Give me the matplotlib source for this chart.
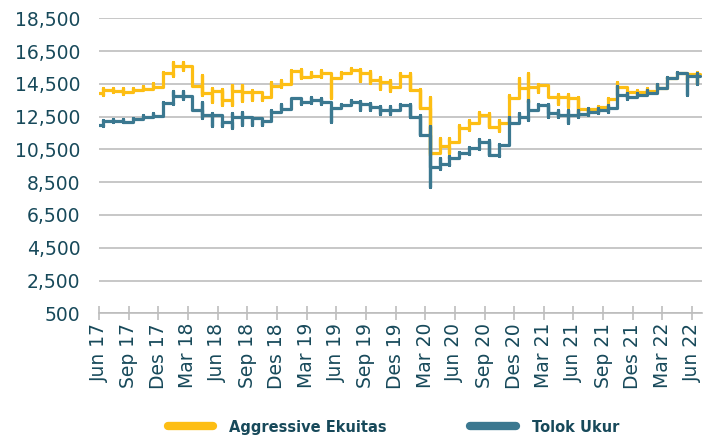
import matplotlib
matplotlib.use("Agg")
import matplotlib.pyplot as plt
from matplotlib.lines import Line2D

# ---------------- data (index values, monthly) ----------------
tick_labels = ["Jun 17", "Sep 17", "Des 17", "Mar 18", "Jun 18", "Sep 18", "Des 18",
               "Mar 19", "Jun 19", "Sep 19", "Des 19", "Mar 20", "Jun 20", "Sep 20",
               "Des 20", "Mar 21", "Jun 21", "Sep 21", "Des 21", "Mar 22", "Jun 22"]

series_names = ["Aggressive Ekuitas", "Tolok Ukur"]

ae_start = 13920
ae_close = [14150, 14080, 14030, 14130, 14200, 14300, 15150, 15600, 15600, 14400,
            13930, 14080, 13520, 14090, 14020, 14020, 13720, 14390, 14470, 15300,
            14940, 14980, 15140, 14840, 15140, 15350, 15180, 14730, 14630, 14320,
            14970, 14120, 13020, 10300, 10700, 10980, 11790, 12100, 12600, 11890,
            12100, 13620, 14230, 14330, 14430, 13720, 13720, 13660, 12950, 12950,
            13090, 13560, 14290, 14025, 14025, 14090, 14230, 14840, 15185, 15100,
            15100]
ae_low = [13850, 13980, 13900, 14000, 14100, 14200, 14300, 15000, 15350, 14400,
          13820, 13420, 13210, 13210, 13480, 13520, 13520, 13720, 14330, 14470,
          14840, 14900, 14940, 13620, 14840, 15140, 14650, 14530, 14180, 14090,
          14320, 14120, 13000, 10150, 10300, 10300, 10980, 11700, 12100, 11890,
          11600, 12100, 13620, 13400, 14000, 13700, 13300, 13100, 12700, 12700,
          12800, 13000, 13560, 13900, 13950, 13950, 14090, 14230, 14840, 14700,
          14500]
ae_high = [14250, 14230, 14250, 14250, 14380, 14570, 15200, 15860, 15860, 15600,
           15040, 14230, 14160, 14430, 14430, 14130, 14020, 14630, 14740, 15350,
           15390, 15200, 15350, 15140, 15200, 15450, 15400, 15300, 14940, 14740,
           15190, 15190, 14200, 13700, 11200, 11200, 12000, 12300, 12800, 12700,
           12300, 13800, 14850, 15150, 14500, 14450, 13900, 13900, 13700, 13050,
           13150, 13650, 14640, 14300, 14100, 14250, 14500, 14900, 15250, 15185,
           15200]

tu_start = 11990
tu_close = [12250, 12250, 12200, 12360, 12500, 12560, 13350, 13760, 13760, 12900,
            12600, 12600, 12200, 12500, 12500, 12400, 12230, 12810, 12950, 13620,
            13420, 13520, 13420, 13010, 13210, 13400, 13300, 13100, 12900, 12900,
            13200, 12490, 11380, 9450, 9600, 9950, 10270, 10570, 10980, 10170,
            10780, 12090, 12500, 12910, 13210, 12700, 12600, 12600, 12640, 12810,
            12910, 13010, 13820, 13720, 13820, 13960, 14230, 14840, 15140, 14980,
            14980]
tu_low = [11900, 12150, 12150, 12200, 12350, 12450, 12560, 13300, 13550, 12900,
          12400, 11900, 11920, 11800, 12000, 12000, 12000, 12230, 12850, 12950,
          13300, 13350, 13300, 12200, 13010, 13210, 12900, 12900, 12650, 12650,
          12900, 12490, 11380, 8200, 9300, 9550, 9950, 10250, 10550, 10170,
          10100, 10780, 12090, 12300, 12900, 12500, 12500, 12100, 12500, 12600,
          12750, 12800, 13010, 13550, 13720, 13800, 13960, 14230, 14840, 13820,
          14500]
tu_high = [12300, 12350, 12350, 12400, 12600, 12750, 13400, 14050, 14050, 13760,
           13400, 12700, 12500, 12700, 12800, 12500, 12400, 12900, 13250, 13650,
           13620, 13720, 13620, 13420, 13300, 13500, 13450, 13350, 13150, 13150,
           13300, 13250, 12600, 11900, 9950, 10100, 10350, 10650, 11150, 11050,
           10850, 12500, 12700, 13500, 13300, 13300, 12900, 12900, 12900, 13000,
           13000, 13200, 14400, 13920, 13950, 14150, 14500, 14900, 15250, 15140,
           15150]

# ---------------- style ----------------
YELLOW = "#FDBE14"
TEAL = "#3B7890"
TEXT = "#17495A"
GRID = "#BDBDBD"
FONT = ["DejaVu Sans"]
plt.rcParams["font.family"] = FONT

fig = plt.figure(figsize=(7.10, 4.38), dpi=100)
ax = fig.add_axes([0.1394, 0.2847, 0.8493, 0.6735])

OFFSET = 0.45  # within-month position of the data


def build_path(start, close, low, high):
    xs, ys = [0.0], [start]
    for i, (c, lo, hi) in enumerate(zip(close, low, high)):
        xm = i + OFFSET
        xs += [xm, xm, xm, xm]
        ys += [ys[-1], lo, hi, c]
    xs.append(len(close) - 1 + 0.8)
    ys.append(close[-1])
    return xs, ys


for (start, c, lo, hi), col in [((ae_start, ae_close, ae_low, ae_high), YELLOW),
                                ((tu_start, tu_close, tu_low, tu_high), TEAL)]:
    xs, ys = build_path(start, c, lo, hi)
    ax.plot(xs, ys, color=col, lw=2.3, solid_joinstyle="round",
            solid_capstyle="round", zorder=3)

ax.set_ylim(500, 18500)
ax.set_yticks(range(500, 18501, 2000))
ax.set_yticklabels([f"{v:,}" for v in range(500, 18501, 2000)])
ax.set_xlim(0, 61)
ax.set_xticks(range(0, 61, 3))
ax.set_xticklabels(tick_labels, rotation=90)

ax.grid(axis="y", color=GRID, lw=1.2)
ax.set_axisbelow(True)
for s in ["left", "right", "top"]:
    ax.spines[s].set_visible(False)
ax.spines["bottom"].set_color(GRID)
ax.spines["bottom"].set_linewidth(1.2)

ax.tick_params(axis="y", length=0, pad=13.5, labelsize=13.5, labelcolor=TEXT)
ax.tick_params(axis="x", direction="inout", length=10, width=1.2, color=GRID,
               pad=2, labelsize=13.5, labelcolor=TEXT)

handles = [Line2D([0], [0], color=YELLOW, lw=6, solid_capstyle="round"),
           Line2D([0], [0], color=TEAL, lw=6, solid_capstyle="round")]
leg = fig.legend(handles, series_names, loc="center", bbox_to_anchor=(0.554, 0.025),
                 ncol=2, frameon=False, handlelength=3.1, handletextpad=1.1,
                 columnspacing=5.75, prop={"family": FONT, "weight": "bold", "size": 10.5})
for t in leg.get_texts():
    t.set_color(TEXT)

fig.savefig("out.png", dpi=100)
